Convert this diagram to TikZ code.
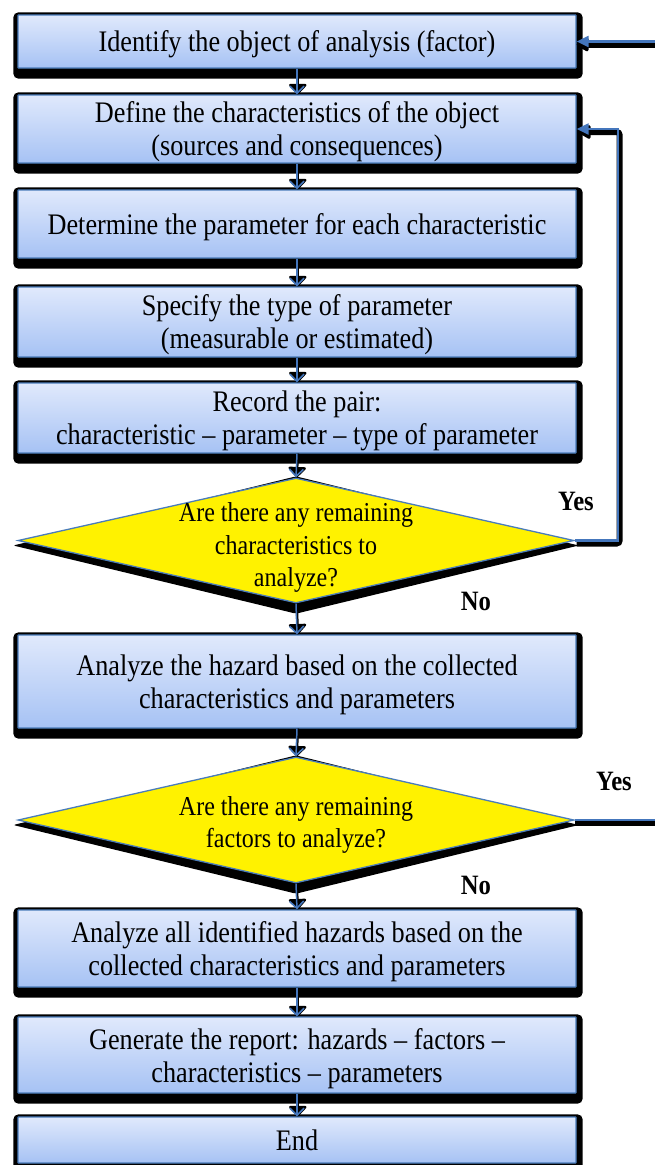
\documentclass[tikz,border=0pt]{standalone}
\usepackage{fontspec}
\setmainfont{Liberation Serif}[FakeStretch=0.88]
\usetikzlibrary{arrows.meta,shapes.geometric,calc}
\pgfdeclarelayer{bg}
\pgfsetlayers{bg,main}
\definecolor{boxtop}{RGB}{224,233,252}
\definecolor{boxbot}{RGB}{166,194,244}
\definecolor{edgeblue}{RGB}{74,124,186}
\definecolor{arrowblue}{RGB}{68,118,188}
\begin{document}
\begin{tikzpicture}[x=1pt,y=-1pt,
  procbox/.style={draw=edgeblue, line width=1.3pt, top color=boxtop, bottom color=boxbot,
    minimum width=558pt, inner sep=0pt, align=center, rounded corners=0.6pt, text depth=0pt,
    font=\fontsize{29.8}{33}\selectfont},
  decision/.style={diamond, draw=edgeblue, line width=1.3pt, fill=yellow,
    minimum width=556pt, inner sep=0pt},
  dtext/.style={align=center, inner sep=0pt, text depth=0pt, font=\fontsize{27.3}{32.5}\selectfont},
  answer/.style={inner sep=0pt, font=\fontsize{28}{30}\selectfont\bfseries},
  flowshadow/.style={black, line width=2.4pt, -{Triangle[length=11pt,width=20pt,round]}},
  flowline/.style={arrowblue, line width=1.5pt, -{Straight Barb[length=7pt,width=14pt,line width=1.6pt]}},
  loopshadow/.style={black, line width=6pt, rounded corners=3pt, -{Triangle[length=14pt,width=15pt,round]}},
  loopline/.style={arrowblue, line width=2.2pt, -{Triangle[length=12pt,width=11pt]}},
  loopshadowplain/.style={black, line width=6pt, rounded corners=3pt},
  looplineplain/.style={arrowblue, line width=2.2pt}
]
\useasboundingbox (0,0) rectangle (654,1165);

\node[procbox, minimum height=53pt] (b1) at (297,41.5) {Identify the object of analysis (factor)};
\node[procbox, minimum height=68pt] (b2) at (297,129) {Define the characteristics of the object\\(sources and consequences)};
\node[procbox, minimum height=68pt] (b3) at (297,224) {Determine the parameter for each characteristic};
\node[procbox, minimum height=70pt] (b4) at (297,322) {Specify the type of parameter\\(measurable or estimated)};
\node[procbox, minimum height=70pt] (b5) at (297,418) {Record the pair:\\characteristic – parameter – type of parameter};
\node[decision, minimum height=125pt] (d1) at (296,540.5) {};
\node[dtext] (t1) at (296,545) {Are there any remaining\\characteristics to\\analyze?};
\node[procbox, minimum height=93pt] (b6) at (297,681.5) {Analyze the hazard based on the collected\\characteristics and parameters};
\node[decision, minimum height=126pt] (d2) at (296,820) {};
\node[dtext] (t2) at (296,822) {Are there any remaining\\factors to analyze?};
\node[procbox, minimum height=77pt] (b7) at (297,948.5) {Analyze all identified hazards based on the\\collected characteristics and parameters};
\node[procbox, minimum height=76pt] (b8) at (297,1055) {Generate the report: hazards – factors –\\characteristics – parameters};
\node[procbox, minimum height=46pt] (b9) at (297,1140) {End};

\node[answer] (y1) at (576,501) {Yes};
\node[answer] (n1) at (476,601) {No};
\node[answer] (y2) at (614,781) {Yes};
\node[answer] (n2) at (476,885) {No};

\coordinate (r1) at (662,41.5);
\coordinate (r2) at (662,820);

\begin{pgfonlayer}{bg}
  \foreach \n in {b1,b2,b3,b4,b5,b6,b7,b8,b9}
    \fill[black, rounded corners=5pt] ($(\n.north west)+(-4,-2)$) rectangle ($(\n.south east)+(6,10)$);
  \foreach \n in {d1,d2}
    \fill[black, rounded corners=2pt] ($(\n.north)+(0,-1)$) -- ($(\n.east)+(4,5)$) -- ($(\n.south)+(0,10)$) -- ($(\n.west)+(-4,5)$) -- cycle;
\end{pgfonlayer}

% vertical flow arrows
\foreach \a/\b in {b1/b2,b2/b3,b3/b4,b4/b5,b5/d1,d1/b6,b6/d2,d2/b7,b7/b8,b8/b9}{
  \draw[flowshadow, transform canvas={xshift=0.8pt}] (\a.south) -- (\b.north);
  \draw[flowline] (\a.south) -- (\b.north);
}

% loop: remaining characteristics -> define characteristics
\draw[loopshadow, transform canvas={xshift=2pt,yshift=-3pt}] (d1.east) -- ++(43,0) |- (b2.east);
\draw[loopline] (d1.east) -- ++(43,0) |- (b2.east);

% loop: remaining factors -> identify object
\draw[loopshadowplain, transform canvas={xshift=0pt,yshift=-3pt}] (d2.east) -- (r2);
\draw[looplineplain] (d2.east) -- (r2);
\draw[loopshadow, transform canvas={xshift=0pt,yshift=-3pt}] (r1) -- (b1.east);
\draw[loopline] (r1) -- (b1.east);
\end{tikzpicture}
\end{document}
